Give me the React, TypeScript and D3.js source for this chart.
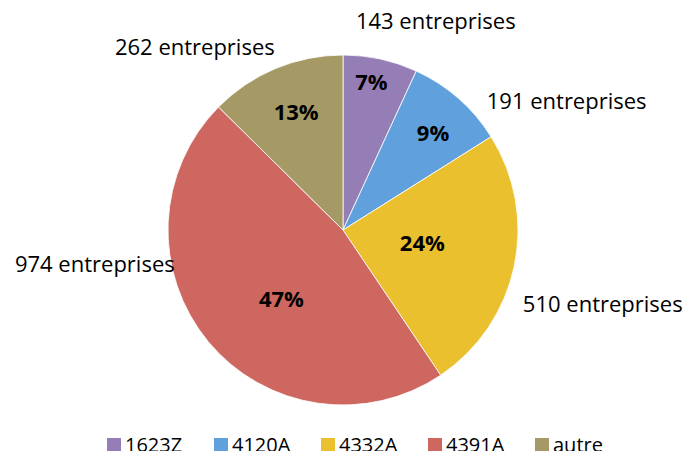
import React, { useEffect, useRef } from 'react';
import * as d3 from 'd3';

const width = 693,
  height = 459,
  radius = 175,
  cx = 343,
  cy = 230;

const categories = ['1623Z', '4120A', '4332A', '4391A', 'autre'];
const counts = [143, 191, 510, 974, 262];
const percentLabels = ['7%', '9%', '24%', '47%', '13%'];
const colors = ['#957DB5', '#60A0DC', '#EBC02F', '#CD6760', '#A59A65'];

// nudges from the arc centroids, to sit the labels where the original has them
const pctNudge = [[4, -37], [15, -11], [-32, -10], [26, -3], [-3, -13]];
const outNudge = [[51, -18], [95, 18], [69, 34], [-98, -90], [-73, -3]];

const font = '"Open Sans", Calibri, sans-serif';

const App = () => {
  const ref = useRef<SVGSVGElement>(null);

  useEffect(() => {
    const svg = d3.select(ref.current);
    svg.selectAll('*').remove();

    const data = categories.map((name, i) => ({ name, value: counts[i], pct: percentLabels[i] }));
    const pie = d3.pie<any>().sort(null).value((d) => d.value);
    const arc = d3.arc<any>().innerRadius(0).outerRadius(radius);
    const pctArc = d3.arc<any>().innerRadius(radius * 0.65).outerRadius(radius * 0.65);
    const outArc = d3.arc<any>().innerRadius(radius + 20).outerRadius(radius + 20);

    const g = svg.append('g').attr('transform', 'translate(' + cx + ',' + cy + ')');
    const arcs = pie(data);

    g.selectAll('.slice')
      .data(arcs)
      .enter()
      .append('path')
      .attr('class', 'slice')
      .attr('d', arc)
      .attr('fill', (d, i) => colors[i])
      .attr('stroke', '#ffffff')
      .attr('stroke-width', 0.8);

    g.selectAll('.pct')
      .data(arcs)
      .enter()
      .append('text')
      .attr('transform', (d, i) => {
        const c = pctArc.centroid(d);
        return 'translate(' + (c[0] + pctNudge[i][0]) + ',' + (c[1] + pctNudge[i][1]) + ')';
      })
      .attr('text-anchor', 'middle')
      .attr('dy', '0.35em')
      .style('font-family', font)
      .style('font-weight', 'bold')
      .style('font-size', '22px')
      .style('fill', '#000')
      .text((d) => d.data.pct);

    g.selectAll('.out')
      .data(arcs)
      .enter()
      .append('text')
      .attr('transform', (d, i) => {
        const c = outArc.centroid(d);
        return 'translate(' + (c[0] + outNudge[i][0]) + ',' + (c[1] + outNudge[i][1]) + ')';
      })
      .attr('text-anchor', 'middle')
      .attr('dy', '0.35em')
      .style('font-family', font)
      .style('font-size', '22px')
      .style('fill', '#000')
      .text((d) => d.data.value + ' entreprises');

    const legend = svg.append('g').attr('transform', 'translate(107,438)');
    const item = legend
      .selectAll('.leg')
      .data(categories)
      .enter()
      .append('g')
      .attr('class', 'leg')
      .attr('transform', (d, i) => 'translate(' + i * 107 + ',0)');
    item.append('rect').attr('width', 14).attr('height', 14).attr('fill', (d, i) => colors[i]);
    item
      .append('text')
      .attr('x', 18)
      .attr('y', 14)
      .style('font-family', font)
      .style('font-size', '20px')
      .style('fill', '#000')
      .text((d) => d);
  }, []);

  return (
    <div style={{ margin: -8 }}>
      <svg ref={ref} width={width} height={height} style={{ display: 'block', background: '#fff' }} />
    </div>
  );
};

export default App;
